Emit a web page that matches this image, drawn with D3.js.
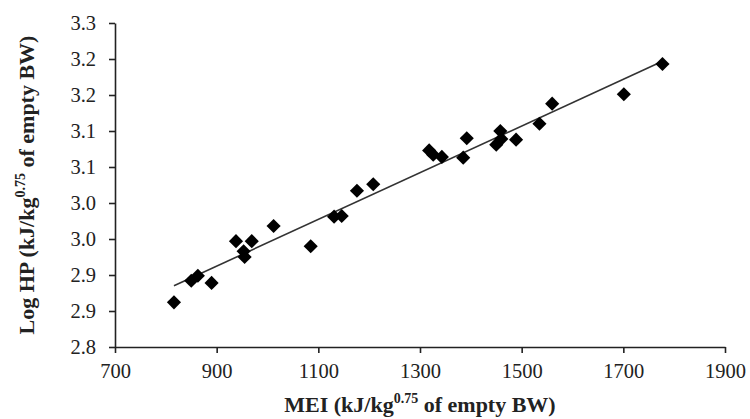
<!DOCTYPE html>
<html>
<head>
<meta charset="utf-8">
<script src="https://cdn.jsdelivr.net/npm/d3@7"></script>
<style>
  body { margin: 0; background: white; }
  svg { display: block; }
</style>
</head>
<body>
<script>
// data
const mei = [816, 850, 863, 890, 938, 953, 955, 969, 1012, 1085, 1131, 1146, 1176, 1208,
             1318, 1326, 1343, 1385, 1392, 1450, 1460, 1458, 1489, 1535, 1560, 1701, 1777];
const logHp = [2.862, 2.892, 2.899, 2.889, 2.947, 2.933, 2.925, 2.947, 2.968, 2.940, 2.981, 2.982, 3.017, 3.026,
               3.073, 3.067, 3.064, 3.063, 3.090, 3.081, 3.089, 3.100, 3.088, 3.110, 3.138, 3.151, 3.193];

const xTicks = [700, 900, 1100, 1300, 1500, 1700, 1900];
const xTickLabels = ["700", "900", "1100", "1300", "1500", "1700", "1900"];
const yTicks = [2.8, 2.85, 2.9, 2.95, 3.0, 3.05, 3.1, 3.15, 3.2, 3.25];
const yTickLabels = ["2.8", "2.9", "2.9", "3.0", "3.0", "3.1", "3.1", "3.2", "3.2", "3.3"];

const width = 750, height = 419;
const margin = {top: 23, right: 25, bottom: 72, left: 115};

const svg = d3.select("body").append("svg")
    .attr("width", width)
    .attr("height", height)
    .style("font-family", "'Liberation Serif', 'Times New Roman', serif");

const x = d3.scaleLinear().domain([700, 1900]).range([margin.left, width - margin.right]);
const y = d3.scaleLinear().domain([2.8, 3.25]).range([height - margin.bottom, margin.top]);

// axes
const xAxis = svg.append("g")
    .attr("transform", `translate(0,${height - margin.bottom})`)
    .call(d3.axisBottom(x).tickValues(xTicks).tickFormat((d, i) => xTickLabels[i])
      .tickSize(6).tickPadding(10).tickSizeOuter(0));

const yAxis = svg.append("g")
    .attr("transform", `translate(${margin.left},0)`)
    .call(d3.axisLeft(y).tickValues(yTicks).tickFormat((d, i) => yTickLabels[i])
      .tickSize(6).tickPadding(13).tickSizeOuter(0));

[xAxis, yAxis].forEach(g => {
  g.selectAll("path, line").attr("stroke", "#222").attr("stroke-width", 1.6);
  g.selectAll("text").style("font-size", "20.5px").attr("fill", "#222")
    .style("font-family", "'Liberation Serif', serif");
});

// trend line (least squares on the points)
const mx = d3.mean(mei), my = d3.mean(logHp);
const slope = d3.sum(mei, (d, i) => (d - mx) * (logHp[i] - my)) / d3.sum(mei, d => (d - mx) * (d - mx));
const intercept = my - slope * mx;
const xmin = d3.min(mei), xmax = d3.max(mei);

svg.append("line")
    .attr("x1", x(xmin)).attr("y1", y(intercept + slope * xmin))
    .attr("x2", x(xmax)).attr("y2", y(intercept + slope * xmax))
    .attr("stroke", "#333")
    .attr("stroke-width", 1.6);

// points
svg.append("g")
  .selectAll("path")
  .data(mei.map((d, i) => [d, logHp[i]]))
  .join("path")
    .attr("d", d3.symbol(d3.symbolSquare, 100))
    .attr("transform", d => `translate(${x(d[0])},${y(d[1])}) rotate(45)`)
    .attr("fill", "#000");

// axis titles
const xt = svg.append("text")
    .attr("x", (x.range()[0] + x.range()[1]) / 2)
    .attr("y", 412)
    .attr("text-anchor", "middle")
    .style("font-size", "22px")
    .style("font-weight", "bold")
    .attr("fill", "#222");
xt.append("tspan").text("MEI (kJ/kg");
xt.append("tspan").attr("dy", -9).style("font-size", "14px").text("0.75");
xt.append("tspan").attr("dy", 9).text(" of empty BW)");

const yt = svg.append("text")
    .attr("transform", `translate(34,${(y.range()[0] + y.range()[1]) / 2}) rotate(-90)`)
    .attr("text-anchor", "middle")
    .style("font-size", "22px")
    .style("font-weight", "bold")
    .attr("fill", "#222");
yt.append("tspan").text("Log HP (kJ/kg");
yt.append("tspan").attr("dy", -9).style("font-size", "14px").text("0.75");
yt.append("tspan").attr("dy", 9).text(" of empty BW)");
</script>
</body>
</html>
